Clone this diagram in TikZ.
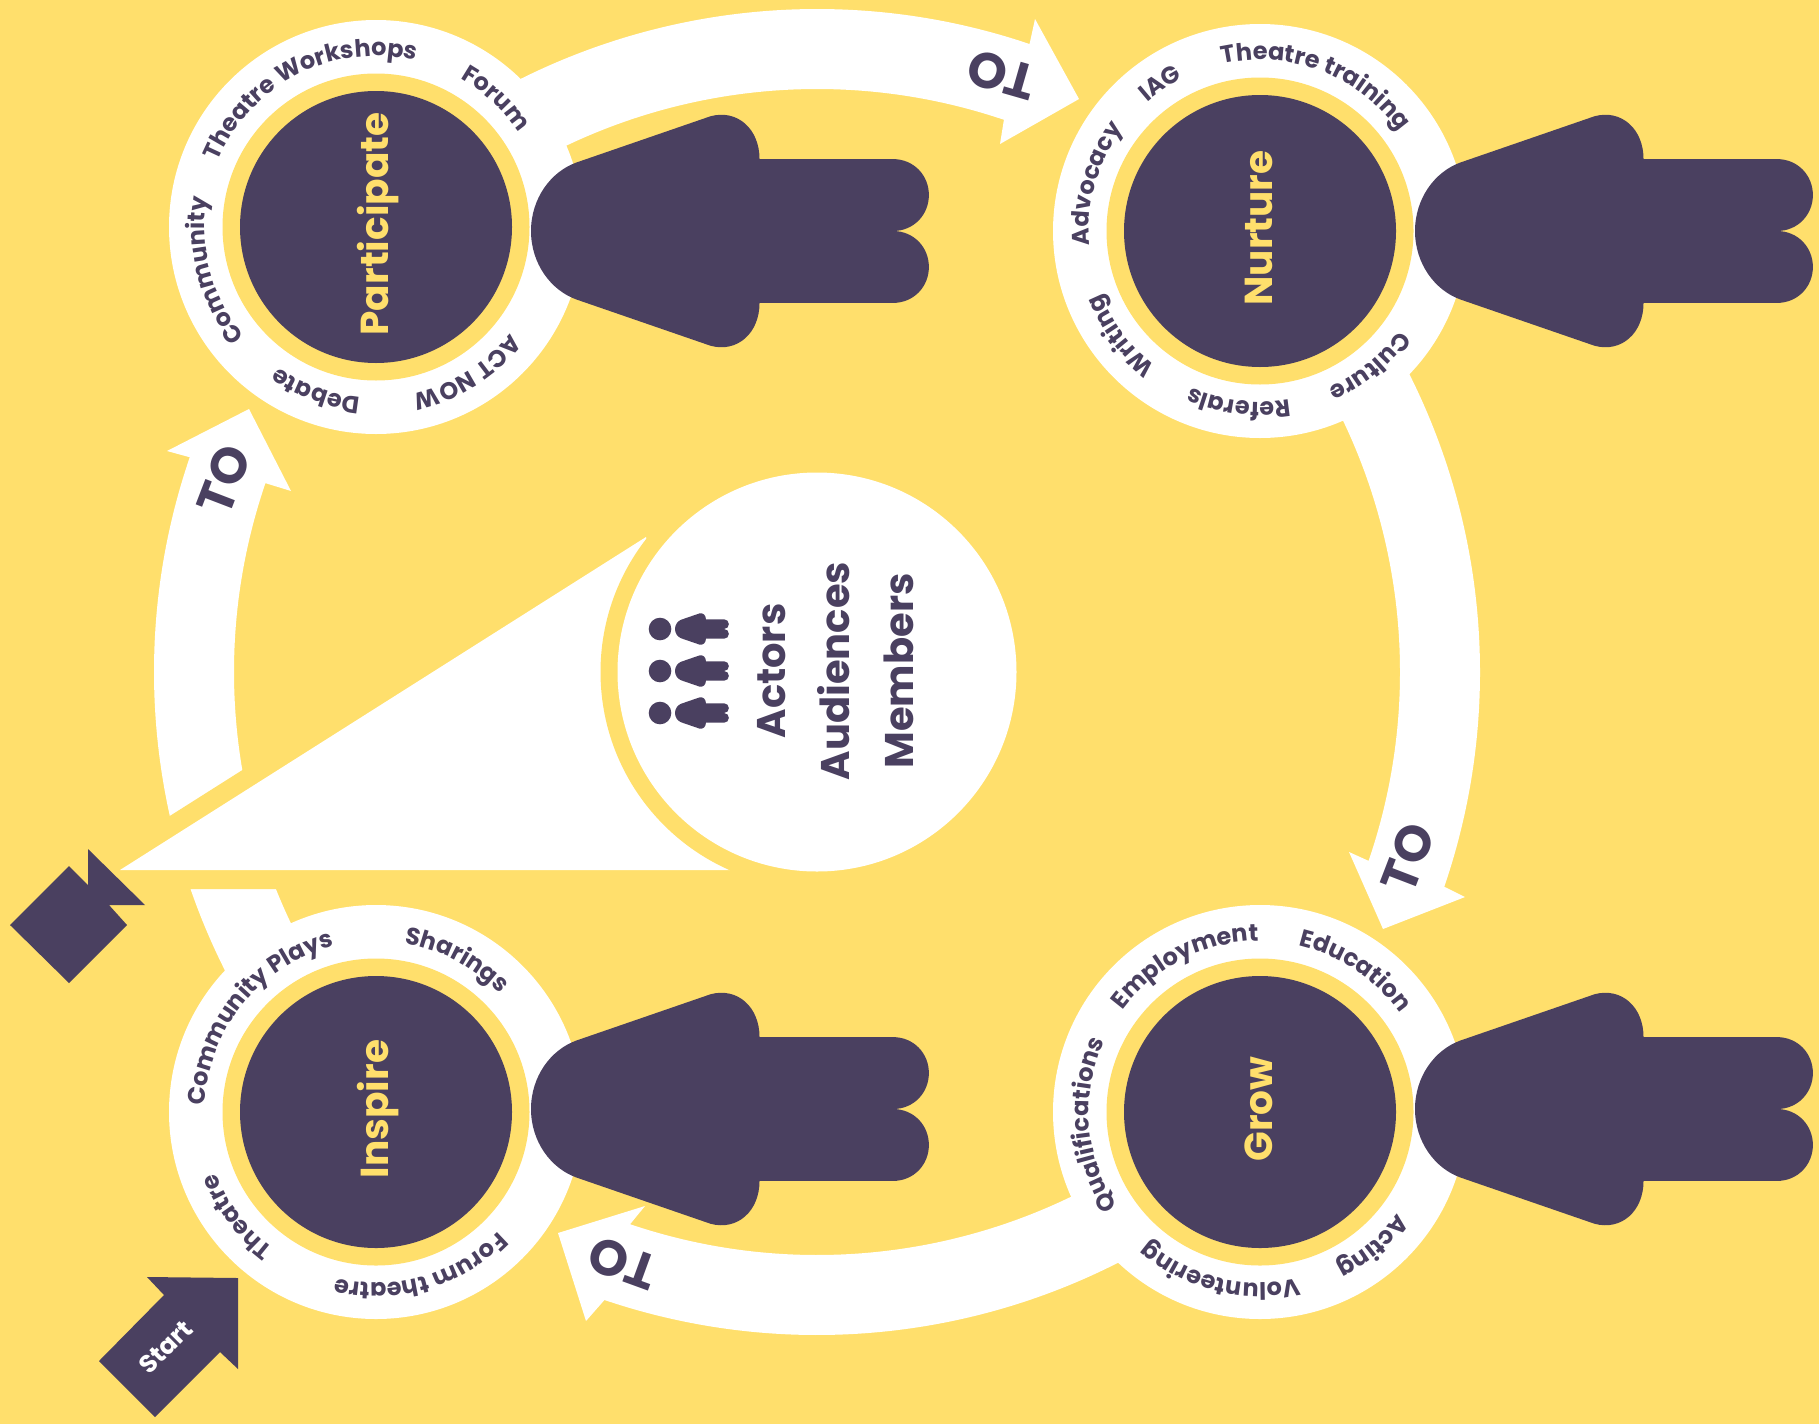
\documentclass[tikz,border=0pt]{standalone}
\usepackage{fontspec}
\setmainfont{Poppins}
\usetikzlibrary{decorations.text}
\definecolor{ink}{RGB}{74,64,96}
\definecolor{gold}{RGB}{255,223,108}
\newcommand{\ringfont}{\fontsize{24}{24}\selectfont\bfseries\color{ink}}
\newcommand{\hubgroup}[4]{%
  \node[whitedisc] (#1) at (#2) {};
  \node[golddisc] (#1-gold) at (#1.center) {};
  \node[inkdisc] (#1-disc) at (#1.center) {};
  \node[hubtext] (#1-text) at ([xshift=12pt,yshift=3pt]#1.center) {#3};
  \pic[scale=1.16] (#1-person) at (#4) {person};
}
\newcommand{\ringlabel}[3]{%
  \path[decorate, decoration={text along path, text align=center, text={|\ringfont|#3}}]
    ([shift={(#1.center)}]#2-80:171) arc (#2-80:#2+80:171);
}
\newcommand{\bandarrow}[5]{%
  \fill[white] ([shift={(stage.center)}]#1:663) arc (#1:#2:663) -- (#3) -- (#4) -- (#5)
    -- ([shift={(stage.center)}]#2:583) arc (#2:#1:583) -- cycle;
}
\begin{document}
\begin{tikzpicture}[
  x=1pt, y=-1pt,
  whitedisc/.style={circle, fill=white, minimum size=414pt, inner sep=0pt},
  golddisc/.style={circle, fill=gold, minimum size=307pt, inner sep=0pt},
  inkdisc/.style={circle, fill=ink, minimum size=272pt, inner sep=0pt},
  hubtext/.style={rotate=90, anchor=base, text=gold, font=\fontsize{39}{39}\selectfont\bfseries},
  totext/.style={text=ink, font=\fontsize{50}{50}\selectfont\bfseries},
  person/.pic={
    \fill[ink] (0,0) .. controls (0,-28) and (17,-51) .. (39,-59) -- (155,-99)
      .. controls (178,-105) and (197,-88) .. (197,-62) -- (312,-62)
      .. controls (330,-62) and (343,-48) .. (343,-31) .. controls (343,-14) and (330,0) .. (312,0)
      .. controls (330,0) and (343,14) .. (343,31) .. controls (343,48) and (330,62) .. (312,62)
      -- (197,62) .. controls (197,88) and (178,105) .. (155,99) -- (39,59)
      .. controls (17,51) and (0,28) .. (0,0) -- cycle;
  }
]
\fill[gold] (0,0) rectangle (1819,1424);
\useasboundingbox (0,0) rectangle (1819,1424);
\coordinate (stage) at (817,672);
\bandarrow{225}{288.7}{1035,19}{1079,99}{1000,144}
\bandarrow{315}{378.9}{1465,897}{1383,929}{1349,852}
\bandarrow{45}{108.7}{586,1321}{558,1233}{645,1206}
\bandarrow{135}{198.9}{167,451}{249,409}{291,491}
\fill[gold, draw=gold, line width=38pt, line join=round] (120,870) -- (730,870) -- (646,537) -- cycle;
\fill[white] (120,870) -- (730,870) -- (646,537) -- cycle;
\node[circle, fill=gold, minimum size=433pt, inner sep=0pt] (stage-gold) at (stage) {};
\node[circle, fill=white, minimum size=399pt, inner sep=0pt] (stage-disc) at (stage) {};
\node[rotate=90, align=center, text=ink, font=\fontsize{40}{64}\selectfont\bfseries] (stage-text) at (836,671) {Actors\\Audiences\\Members};
\foreach \rowy in {629,671,713} {
  \fill[ink] (660,\rowy) circle[radius=11.3];
  \pic[scale=0.157] at (675,\rowy) {person};
}
\hubgroup{participate}{376,227}{Participate}{531,231}
\hubgroup{nurture}{1260,231}{Nurture}{1415,231}
\hubgroup{inspire}{376,1112}{Inspire}{531,1109}
\hubgroup{grow}{1260,1112}{Grow}{1415,1109}
\ringlabel{participate}{243}{Theatre Workshops}
\ringlabel{participate}{313}{Forum}
\ringlabel{participate}{58}{ACT NOW}
\ringlabel{participate}{110}{Debate}
\ringlabel{participate}{165}{Community}
\ringlabel{nurture}{291}{Theatre training}
\ringlabel{nurture}{236}{IAG}
\ringlabel{nurture}{196}{Advocacy}
\ringlabel{nurture}{143}{Writing}
\ringlabel{nurture}{97}{Referals}
\ringlabel{nurture}{51}{Culture}
\ringlabel{grow}{243}{Employment}
\ringlabel{grow}{304}{Education}
\ringlabel{grow}{50}{Acting}
\ringlabel{grow}{104}{Volunteering}
\ringlabel{grow}{175.5}{Qualifications}
\ringlabel{inspire}{298}{Sharings}
\ringlabel{inspire}{219}{Community Plays}
\ringlabel{inspire}{74}{Forum theatre}
\ringlabel{inspire}{143}{Theatre}
\node[totext, rotate=164] (to-top) at (1002,75) {TO};
\node[totext, rotate=69] (to-right) at (1408,858) {TO};
\node[totext, rotate=160] (to-bottom) at (623,1263) {TO};
\node[totext, rotate=69] (to-left) at (224,480) {TO};
\fill[ink] (69,866) -- (88,885) -- (88,849) -- (145,905) -- (109,905) -- (127,925) -- (69,983) -- (10,925) -- cycle;
\fill[ink] (147,1277) -- (238,1278) -- (238,1369) -- (220,1352) -- (155,1417) -- (99,1361) -- (164,1295) -- cycle;
\node[rotate=45, text=white, font=\fontsize{25}{25}\selectfont\bfseries] (start) at (166,1347) {Start};
\end{tikzpicture}
\end{document}
